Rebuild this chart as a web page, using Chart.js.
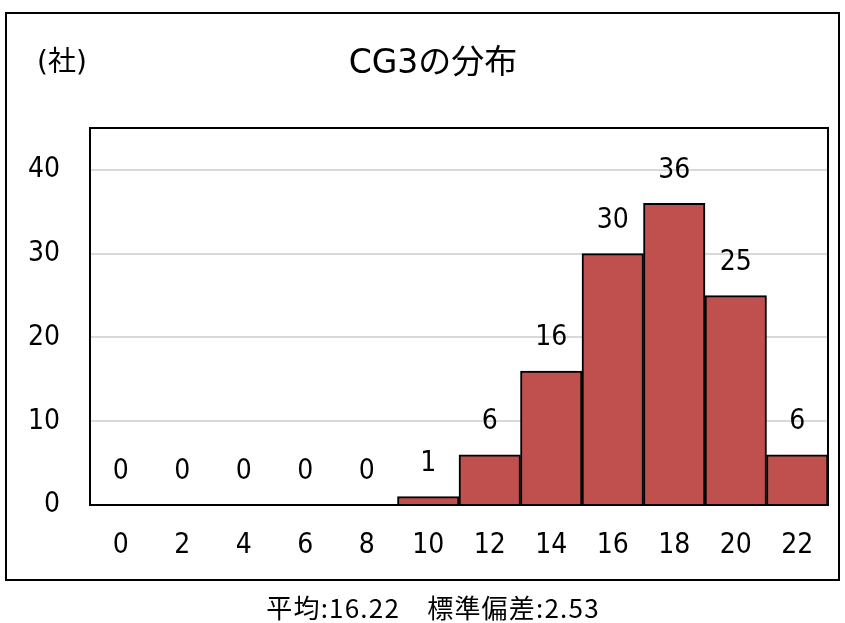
<!DOCTYPE html>
<html>
<head>
<meta charset="utf-8">
<script src="https://cdn.jsdelivr.net/npm/chart.js@4/dist/chart.umd.min.js"></script>
<style>
  html, body { margin: 0; padding: 0; background: #ffffff; }
  #wrap { width: 845px; height: 623px; position: relative; }
</style>
</head>
<body>
<div id="wrap"><canvas id="c" width="845" height="623"></canvas></div>
<script>
// CG3 score bins and number of companies in each bin
const categories = ['0', '2', '4', '6', '8', '10', '12', '14', '16', '18', '20', '22'];
const counts = [0, 0, 0, 0, 0, 1, 6, 16, 30, 36, 25, 6];
const yTicks = [0, 10, 20, 30, 40];
const titleText = 'CG3の分布';
const unitText = '(社)';
const footerText = '平均:16.22\u3000標準偏差:2.53';

const NUM_FONT = '"DejaVu Sans Condensed", "DejaVu Sans", Verdana, sans-serif';
const MIX_FONT = '"DejaVu Sans", "Noto Sans CJK JP", sans-serif';
const JP_FONT = '"Noto Sans CJK JP", "Noto Sans", sans-serif';

// Outer box, plot frame, value labels and surrounding text
const decorations = {
  id: 'decorations',
  afterDraw(chart) {
    const ctx = chart.ctx;
    const area = chart.chartArea;
    ctx.save();

    // outer border
    ctx.strokeStyle = '#000';
    ctx.lineWidth = 2;
    ctx.strokeRect(6, 13, 833, 567);

    // plot frame
    ctx.lineWidth = 2;
    ctx.strokeRect(area.left, area.top, area.right - area.left, area.bottom - area.top);

    // value labels above each bar
    const meta = chart.getDatasetMeta(0);
    ctx.fillStyle = '#000';
    ctx.font = '28px ' + NUM_FONT;
    ctx.textAlign = 'center';
    ctx.textBaseline = 'middle';
    meta.data.forEach((bar, i) => {
      ctx.fillText(String(counts[i]), bar.x, bar.y - 33);
    });

    // title and unit
    ctx.font = '33px ' + MIX_FONT;
    ctx.fillText(titleText, 433, 64);
    ctx.font = '28px ' + MIX_FONT;
    ctx.fillText(unitText, 62, 64);

    // summary line under the chart
    ctx.font = '26px ' + JP_FONT;
    ctx.letterSpacing = '1.2px';
    ctx.fillText(footerText, 433, 608);

    ctx.restore();
  }
};

new Chart(document.getElementById('c'), {
  type: 'bar',
  data: {
    labels: categories,
    datasets: [{
      data: counts,
      backgroundColor: '#C0504D',
      borderColor: '#000000',
      borderWidth: 2,
      barPercentage: 1.0,
      categoryPercentage: 1.0
    }]
  },
  options: {
    responsive: false,
    animation: false,
    devicePixelRatio: 1,
    layout: { padding: { left: 0, top: 128, right: 17, bottom: 68 } },
    plugins: {
      legend: { display: false },
      title: { display: false },
      tooltip: { enabled: false }
    },
    scales: {
      x: {
        grid: { display: false, drawTicks: false },
        border: { display: false },
        ticks: {
          color: '#000',
          font: { family: NUM_FONT, size: 28 },
          padding: 24,
          maxRotation: 0
        },
        afterFit(scale) { scale.height = 50; }
      },
      y: {
        min: 0,
        max: 45,
        afterBuildTicks(scale) {
          scale.ticks = yTicks.map(v => ({ value: v }));
        },
        grid: {
          drawTicks: false,
          color: ctx => (ctx.tick && ctx.tick.value === 0 ? 'rgba(0,0,0,0)' : '#d9d9d9'),
          lineWidth: 2
        },
        border: { display: false },
        ticks: {
          color: '#000',
          font: { family: NUM_FONT, size: 28 },
          padding: 30
        },
        afterFit(scale) { scale.width = 90; }
      }
    }
  },
  plugins: [decorations]
});
</script>
</body>
</html>
